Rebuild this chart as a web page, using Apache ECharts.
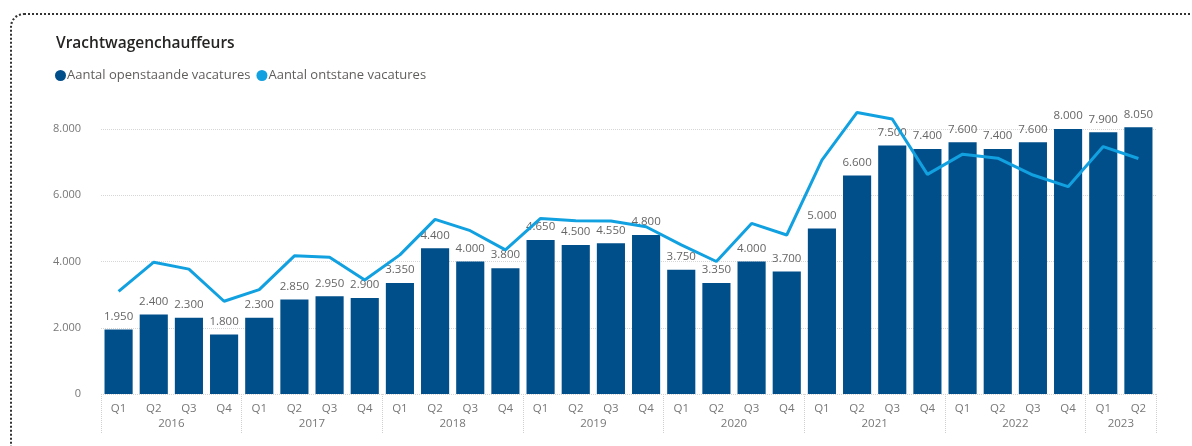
<!DOCTYPE html>
<html>
<head>
<meta charset="utf-8">
<script src="https://cdn.jsdelivr.net/npm/echarts@6/dist/echarts.min.js"></script>
<style>
  html, body { margin: 0; padding: 0; width: 1192px; height: 446px; overflow: hidden; background: #fff; }
  #frame { position: absolute; left: 10px; top: 13px; width: 1300px; height: 600px;
           border: 2px dotted #333; border-radius: 14px; box-sizing: border-box; }
  #chart { position: absolute; left: 0; top: 0; width: 1192px; height: 446px; }
</style>
</head>
<body>
<div id="frame"></div>
<div id="chart"></div>
<script>
// Quarterly categories
const quarters = ['Q1','Q2','Q3','Q4','Q1','Q2','Q3','Q4','Q1','Q2','Q3','Q4','Q1','Q2','Q3','Q4',
                  'Q1','Q2','Q3','Q4','Q1','Q2','Q3','Q4','Q1','Q2','Q3','Q4','Q1','Q2'];
const years = ['2016','2017','2018','2019','2020','2021','2022','2023'];
// Position (in quarter units) of each year's label centre and of the year separators
const yearCenters = [2, 6, 10, 14, 18, 22, 26, 29];
const yearBounds = [0, 4, 8, 12, 16, 20, 24, 28, 30];

// Aantal openstaande vacatures
const openstaand = [1950, 2400, 2300, 1800, 2300, 2850, 2950, 2900, 3350, 4400, 4000, 3800,
                    4650, 4500, 4550, 4800, 3750, 3350, 4000, 3700, 5000, 6600, 7500, 7400,
                    7600, 7400, 7600, 8000, 7900, 8050];
// Aantal ontstane vacatures
const ontstaan = [3100, 3980, 3770, 2800, 3150, 4170, 4130, 3440, 4200, 5270, 4930, 4350,
                  5300, 5230, 5220, 5050, 4500, 4000, 5150, 4800, 7060, 8500, 8300, 6630,
                  7240, 7120, 6610, 6260, 7470, 7110];

const yTicks = [0, 2000, 4000, 6000, 8000];

const fmt = v => String(v).replace(/\B(?=(\d{3})+(?!\d))/g, '.');
const FONT = '"Open Sans", "Noto Sans", sans-serif';

const chart = echarts.init(document.getElementById('chart'), null, { renderer: 'canvas' });
chart.setOption({
  animation: false,
  textStyle: { fontFamily: FONT },
  title: {
    text: 'Vrachtwagenchauffeurs',
    left: 51, top: 31,
    textStyle: { fontFamily: FONT, fontSize: 15.5, fontWeight: 600, color: '#252423' }
  },
  legend: {
    left: 50, top: 64,
    icon: 'circle', itemWidth: 11, itemHeight: 11, itemGap: 6,
    textStyle: { fontFamily: FONT, fontSize: 13, color: '#605E5C', padding: [0, 0, 0, -4] },
    data: ['Aantal openstaande vacatures', 'Aantal ontstane vacatures']
  },
  grid: { left: 101, right: 36, top: 129, bottom: 52 },
  xAxis: [
    {
      type: 'category',
      data: quarters,
      position: 'bottom',
      axisLine: { show: false },
      axisTick: { show: false },
      axisLabel: { color: '#777', fontSize: 11.5, margin: 9, interval: 0 }
    },
    {
      type: 'value',
      min: 0, max: 30,
      position: 'bottom',
      axisLine: { show: false },
      splitLine: { show: false },
      axisTick: {
        show: true, customValues: yearBounds, length: 40,
        lineStyle: { color: '#d0d0d0', type: 'dotted', width: 1 }
      },
      axisLabel: {
        customValues: yearCenters, color: '#777', fontSize: 11.5, margin: 24,
        formatter: v => years[yearCenters.indexOf(v)] || ''
      }
    }
  ],
  yAxis: {
    type: 'value',
    min: yTicks[0], max: yTicks[yTicks.length - 1], interval: 2000,
    axisLine: { show: false },
    axisTick: { show: false },
    splitLine: { lineStyle: { color: '#d6d6d6', type: 'dotted', width: 1 } },
    axisLabel: { color: '#777', fontSize: 11, margin: 20, formatter: v => fmt(v) }
  },
  series: [
    {
      name: 'Aantal openstaande vacatures',
      type: 'bar',
      data: openstaand,
      xAxisIndex: 0,
      barCategoryGap: '20%',
      clip: false,
      itemStyle: { color: '#004F8B' },
      label: {
        show: true, position: 'top', distance: 7,
        color: '#666', fontSize: 11.5, formatter: p => fmt(p.value)
      },
      z: 2
    },
    {
      name: 'Aantal ontstane vacatures',
      type: 'line',
      data: ontstaan,
      xAxisIndex: 0,
      clip: false,
      symbol: 'none',
      itemStyle: { color: '#12A1E0' },
      lineStyle: { color: '#12A1E0', width: 3 },
      z: 3
    }
  ]
});
</script>
</body>
</html>
